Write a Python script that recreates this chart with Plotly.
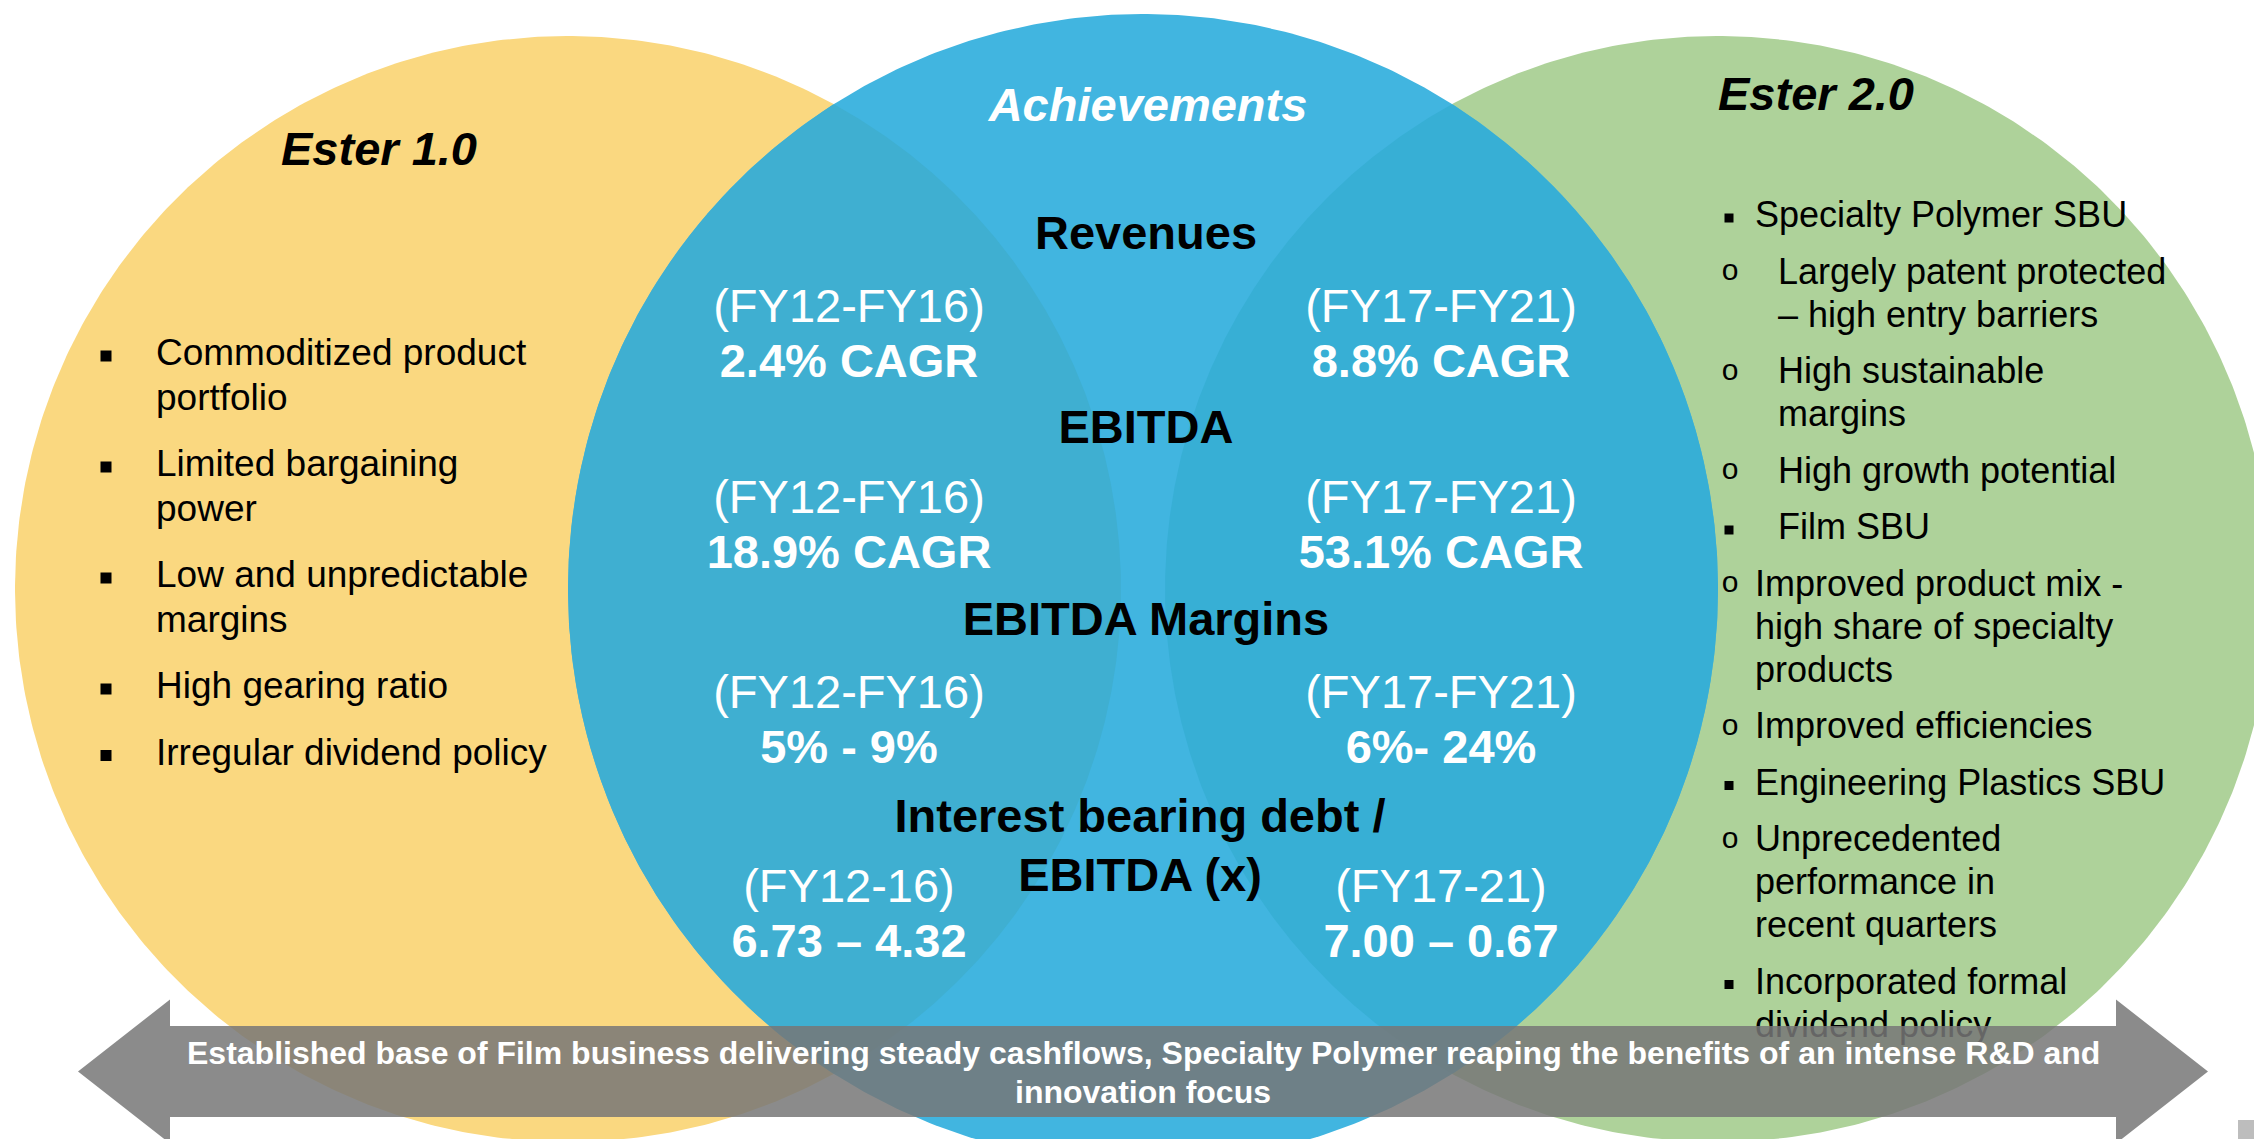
import numpy as np
import plotly.graph_objects as go

W, H = 2254, 1139
FONT = "Liberation Sans, Arial, sans-serif"

# ---- content ----
TITLES = ["Ester 1.0", "Achievements", "Ester 2.0"]

ESTER1_POINTS = [
    ["Commoditized product", "portfolio"],
    ["Limited bargaining", "power"],
    ["Low and unpredictable", "margins"],
    ["High gearing ratio"],
    ["Irregular dividend policy"],
]

# (bullet kind, lines)
ESTER2_POINTS = [
    ("sq", ["Specialty Polymer SBU"]),
    ("o", ["Largely patent protected", "– high entry barriers"]),
    ("o", ["High sustainable", "margins"]),
    ("o", ["High growth potential"]),
    ("sq", ["Film SBU"]),
    ("o", ["Improved product mix -", "high share of specialty", "products"]),
    ("o", ["Improved efficiencies"]),
    ("sq", ["Engineering Plastics SBU"]),
    ("o", ["Unprecedented", "performance in", "recent quarters"]),
    ("sq", ["Incorporated formal", "dividend policy"]),
]
# indent of text for each right-hand point (narrow = right after bullet)
ESTER2_WIDE = [False, True, True, True, True, False, False, False, False, False]

METRICS = [["Revenues"], ["EBITDA"], ["EBITDA Margins"], ["Interest bearing debt /", "EBITDA (x)"]]
PERIOD_OLD = ["(FY12-FY16)", "(FY12-FY16)", "(FY12-FY16)", "(FY12-16)"]
PERIOD_NEW = ["(FY17-FY21)", "(FY17-FY21)", "(FY17-FY21)", "(FY17-21)"]
VALUE_OLD = ["2.4% CAGR", "18.9% CAGR", "5% - 9%", "6.73 – 4.32"]
VALUE_NEW = ["8.8% CAGR", "53.1% CAGR", "6%- 24%", "7.00 – 0.67"]

ARROW_TEXT = ["Established base of Film business delivering steady cashflows, Specialty Polymer reaping the benefits of an intense R&D and",
              "innovation focus"]

# ---- layout geometry (pixels, y down) ----
YELLOW = dict(cx=568, cy=589, r=553, color="#FAD880")
BLUE = dict(cx=1143, cy=589, r=575, color="#41B5E0")
GREEN = dict(cx=1718, cy=589, r=553, color="#AED29A")
LENS_LEFT = "#3FAFD1"
LENS_RIGHT = "#37AFD5"

DY = 3  # scatter text sits slightly high; nudge down
HEAD_Y = [234, 428, 620, 817]
PERIOD_Y = [307, 498, 693, 887]
VALUE_Y = [362, 553, 748, 942]
COL_OLD, COL_MID, COL_NEW = 849, 1146, 1441


def arc(c, t0, t1, n=600):
    t = np.linspace(t0, t1, n)
    return c["cx"] + c["r"] * np.cos(t), c["cy"] + c["r"] * np.sin(t)


def inside(x, y, c):
    return (x - c["cx"]) ** 2 + (y - c["cy"]) ** 2 <= c["r"] ** 2


def lens(a, b):
    pa = np.arctan2(b["cy"] - a["cy"], b["cx"] - a["cx"])
    xa, ya = arc(a, pa - np.pi, pa + np.pi, 2000)
    m = inside(xa, ya, b)
    pb = np.arctan2(a["cy"] - b["cy"], a["cx"] - b["cx"])
    xb, yb = arc(b, pb - np.pi, pb + np.pi, 2000)
    n = inside(xb, yb, a)
    return np.concatenate([xa[m], xb[n]]), np.concatenate([ya[m], yb[n]])


fig = go.Figure()


def disc(x, y, color):
    fig.add_trace(go.Scatter(x=x, y=y, mode="lines", fill="toself", fillcolor=color,
                             line=dict(width=0, color=color), hoverinfo="skip"))


for c in (YELLOW, GREEN, BLUE):
    disc(*arc(c, 0, 2 * np.pi), c["color"])
disc(*lens(YELLOW, BLUE), LENS_LEFT)
disc(*lens(BLUE, GREEN), LENS_RIGHT)


def text(xs, ys, labels, size, color="black", pos="middle center"):
    fig.add_trace(go.Scatter(x=xs, y=[v + DY for v in ys], text=labels, mode="text", textposition=pos,
                             textfont=dict(family=FONT, size=size, color=color), hoverinfo="skip"))


# titles
text([379], [150], ["<b><i>" + TITLES[0] + "</i></b>"], 47)
text([1148], [106], ["<b><i>" + TITLES[1] + "</i></b>"], 47, "white")
text([1816], [95], ["<b><i>" + TITLES[2] + "</i></b>"], 47)

# left bullets
lx, ly, ty = [], [], []
y = 353
bx, by = [], []
for item in ESTER1_POINTS:
    bx.append(106)
    by.append(y + DY)
    for line in item:
        lx.append(line)
        ty.append(y)
        y += 44.5
    y += 22
text([156] * len(lx), ty, lx, 37, pos="middle right")
fig.add_trace(go.Scatter(x=bx, y=by, mode="markers", hoverinfo="skip",
                         marker=dict(symbol="square", size=11, color="black")))

# right bullets
rl, rx, ry = [], [], []
sqx, sqy, ox, oy = [], [], [], []
y = 215
for (kind, lines), wide in zip(ESTER2_POINTS, ESTER2_WIDE):
    if kind == "sq":
        sqx.append(1729)
        sqy.append(y + DY)
    else:
        ox.append(1730)
        oy.append(y - 2)
    for line in lines:
        rl.append(line)
        rx.append(1778 if wide else 1755)
        ry.append(y)
        y += 43
    y += 13.5
text(rx, ry, rl, 36, pos="middle right")
text(ox, oy, ["o"] * len(ox), 30)
fig.add_trace(go.Scatter(x=sqx, y=sqy, mode="markers", hoverinfo="skip",
                         marker=dict(symbol="square", size=9, color="black")))

# achievements block
hx, hy, hl = [], [], []
for lines, y0 in zip(METRICS, HEAD_Y):
    for k, line in enumerate(lines):
        hx.append(COL_MID if len(lines) == 1 else 1140)
        hy.append(y0 + 59 * k)
        hl.append("<b>" + line + "</b>")
text(hx, hy, hl, 47)
text([COL_OLD] * 4, PERIOD_Y, PERIOD_OLD, 47, "white")
text([COL_NEW] * 4, PERIOD_Y, PERIOD_NEW, 47, "white")
text([COL_OLD] * 4, VALUE_Y, ["<b>" + v + "</b>" for v in VALUE_OLD], 47, "white")
text([COL_NEW] * 4, VALUE_Y, ["<b>" + v + "</b>" for v in VALUE_NEW], 47, "white")

# double arrow across the bottom
mid, half_band, half_head = 1071.5, 45.5, 72
path = (f"M 78 {mid} L 170 {mid - half_head} L 170 {mid - half_band} L 2116 {mid - half_band} "
        f"L 2116 {mid - half_head} L 2208 {mid} L 2116 {mid + half_head} L 2116 {mid + half_band} "
        f"L 170 {mid + half_band} L 170 {mid + half_head} Z")
shapes = [
    dict(type="path", path=path, fillcolor="rgba(119,119,119,0.85)", line=dict(width=0), layer="above"),
    dict(type="rect", x0=2238, x1=2254, y0=1120, y1=1139, fillcolor="#BDBDBD", line=dict(width=0), layer="above"),
]
annotations = [
    dict(x=1143, y=1053 + 38.5 * i, text="<b>" + t + "</b>", showarrow=False, xanchor="center", yanchor="middle",
         font=dict(family=FONT, size=32, color="white"))
    for i, t in enumerate(ARROW_TEXT)
]

fig.update_layout(
    width=W, height=H, margin=dict(l=0, r=0, t=0, b=0),
    paper_bgcolor="white", plot_bgcolor="white", showlegend=False,
    xaxis=dict(range=[0, W], visible=False, fixedrange=True),
    yaxis=dict(range=[H, 0], visible=False, fixedrange=True),
    shapes=shapes, annotations=annotations,
)

fig.write_html("out.html", config={"displayModeBar": False},
               post_script="document.body.style.margin='0';document.body.style.overflow='hidden';")
